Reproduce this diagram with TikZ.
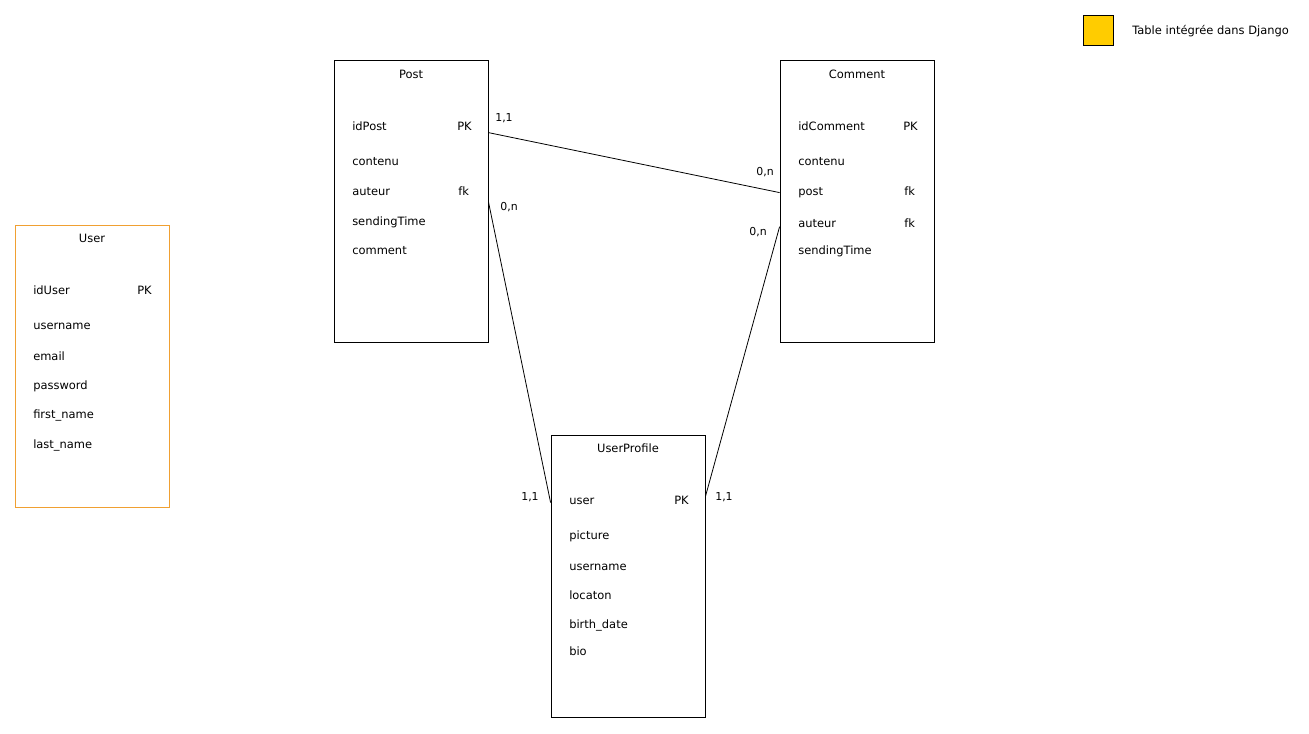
\documentclass[tikz,border=0pt]{standalone}
\usepackage{fontspec}
\setmainfont{DejaVu Sans}
\usepackage{tikz}
\usetikzlibrary{calc}
\definecolor{djangoyellow}{RGB}{255,204,0}
\definecolor{userorange}{RGB}{240,160,50}
\tikzset{
  tablebox/.style={draw, line width=0.6pt, minimum width=115.5pt, minimum height=211.5pt, inner sep=0pt},
  field/.style={anchor=west, inner sep=0pt, text height=6.5pt, text depth=2pt, font=\fontsize{8.6}{10}\selectfont},
  tabletitle/.style={inner sep=0pt, text height=6.5pt, text depth=2pt, font=\fontsize{8.6}{10}\selectfont},
  card/.style={inner sep=0pt, text height=6pt, text depth=2pt, font=\fontsize{8.2}{10}\selectfont}
}
\begin{document}
\begin{tikzpicture}[x=0.75pt, y=-0.75pt]
        \useasboundingbox (0,0) rectangle (1309,733);

        \node[tablebox] (post)    at (411,201) {};
        \node[tablebox] (comment) at (857,201) {};
        \node[tablebox, draw=userorange] (user) at (92,366) {};
        \node[tablebox] (profile) at (628,576) {};

        \node[tabletitle] (postT)     at (411,75)  {Post};
        \node[field] (idPost)         at (352,127) {idPost};
        \node[field] (idPostK)        at (457,127) {PK};
        \node[field] (postContenu)    at (352,162) {contenu};
        \node[field] (postAuteur)     at (352,192) {auteur};
        \node[field] (postAuteurK)    at (458,192) {fk};
        \node[field] (postTime)       at (352,222) {sendingTime};
        \node[field] (postComment)    at (352,251) {comment};

        \node[tabletitle] (commentT)  at (857,75)  {Comment};
        \node[field] (idComment)      at (798,127) {idComment};
        \node[field] (idCommentK)     at (903,127) {PK};
        \node[field] (comContenu)     at (798,162) {contenu};
        \node[field] (comPost)        at (798,192) {post};
        \node[field] (comPostK)       at (904,192) {fk};
        \node[field] (comAuteur)      at (798,224) {auteur};
        \node[field] (comAuteurK)     at (904,224) {fk};
        \node[field] (comTime)        at (798,251) {sendingTime};

        \node[tabletitle] (userT)     at (92,239)  {User};
        \node[field] (idUser)         at (33,291)  {idUser};
        \node[field] (idUserK)        at (137,291) {PK};
        \node[field] (userName)       at (33,326)  {username};
        \node[field] (userEmail)      at (33,357)  {email};
        \node[field] (userPass)       at (33,386)  {password};
        \node[field] (userFirst)      at (33,415)  {first\_name};
        \node[field] (userLast)       at (33,445)  {last\_name};

        \node[tabletitle] (profileT)  at (628,449) {UserProfile};
        \node[field] (profUser)       at (569,501) {user};
        \node[field] (profUserK)      at (674,501) {PK};
        \node[field] (profPicture)    at (569,536) {picture};
        \node[field] (profName)       at (569,567) {username};
        \node[field] (profLoc)        at (569,596) {locaton};
        \node[field] (profBirth)      at (569,625) {birth\_date};
        \node[field] (profBio)        at (569,652) {bio};

        \node[draw, fill=djangoyellow, line width=0.6pt, minimum size=22.5pt, inner sep=0pt] (legend) at (1098,30) {};
        \node[field] (legendT) at (1132,31) {Table intégrée dans Django};

        \coordinate (postA)    at ($(post.north east)+(0,73)$);
        \coordinate (commentA) at ($(comment.north west)+(0,133)$);
        \coordinate (postB)    at ($(post.north east)+(0,142)$);
        \coordinate (profileA) at ($(profile.north west)+(0,68)$);
        \coordinate (commentB) at ($(comment.north west)+(0,167)$);
        \coordinate (profileB) at ($(profile.north east)+(0,62)$);

        \draw[-, line width=0.6pt] (postA) -- (commentA);
        \draw[-, line width=0.6pt] (postB) -- (profileA);
        \draw[-, line width=0.6pt] (commentB) -- (profileB);

        \node[card] (c11a) at (504,119) {1,1};
        \node[card] (c0na) at (765,173) {0,n};
        \node[card] (c0nb) at (509,208) {0,n};
        \node[card] (c0nc) at (758,233) {0,n};
        \node[card] (c11b) at (530,498) {1,1};
        \node[card] (c11c) at (724,498) {1,1};
    \end{tikzpicture}
\end{document}
